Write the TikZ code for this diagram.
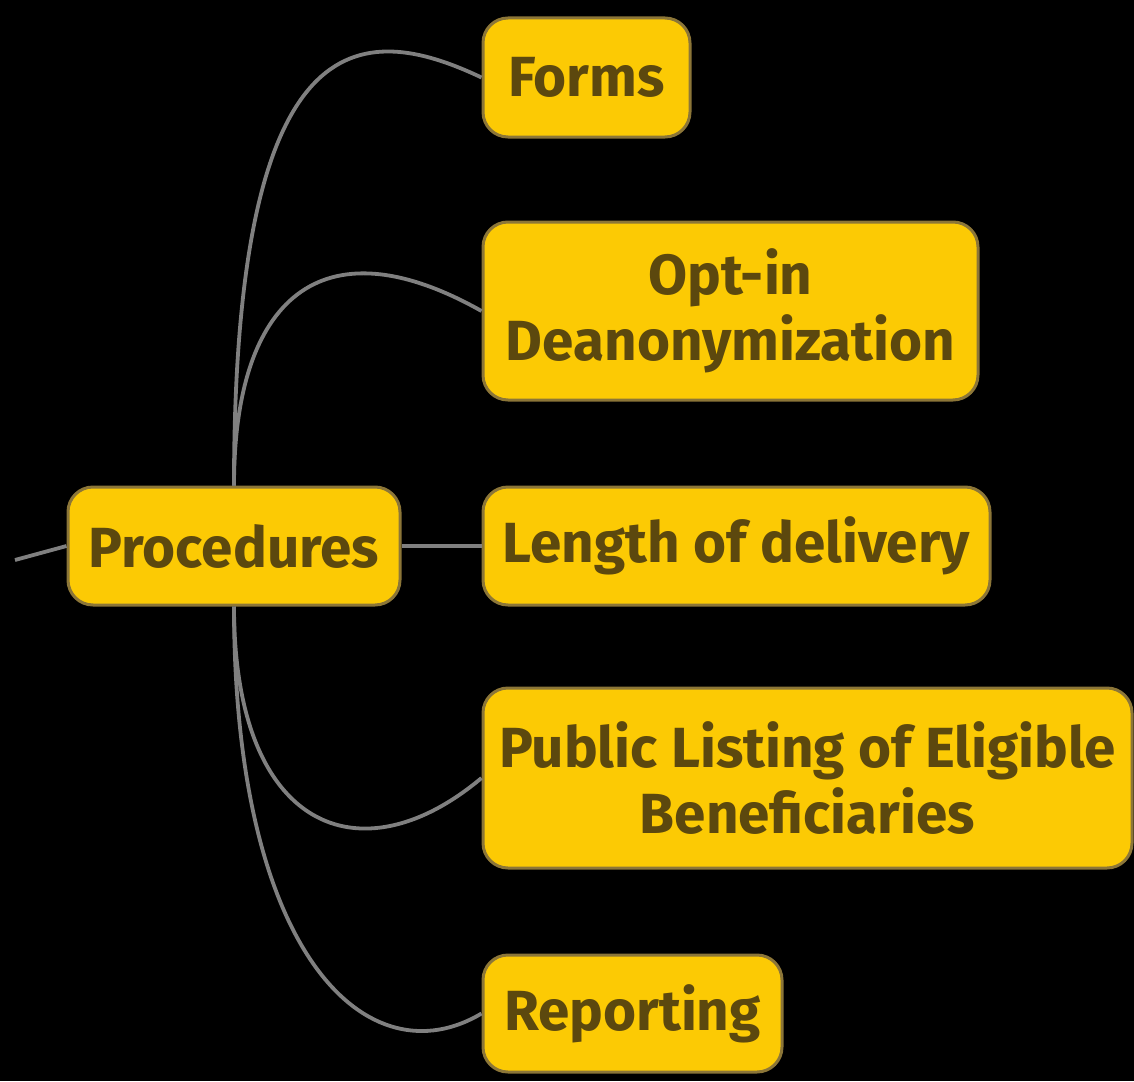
\documentclass[tikz,border=0pt]{standalone}
\usepackage{fontspec}
\setmainfont{Fira Sans}
\definecolor{bgc}{RGB}{0,0,0}
\definecolor{nodefill}{RGB}{252,202,4}
\definecolor{nodeedge}{RGB}{140,118,56}
\definecolor{nodetext}{RGB}{92,72,14}
\definecolor{linkc}{RGB}{128,128,128}
\begin{document}
\begin{tikzpicture}[x=0.5pt,y=-0.5pt,
  topic/.style={draw=nodeedge, line width=1.5pt, fill=nodefill, rounded corners=12.5pt,
    text=nodetext, font=\fontsize{28.3}{33}\selectfont\bfseries, align=center, inner sep=0pt},
  link/.style={draw=linkc, line width=1.9pt}]
\fill[bgc] (0,0) rectangle (1134,1081);
\useasboundingbox (0,0) rectangle (1134,1081);
\node[topic, minimum width=166pt, minimum height=59pt] (proc) at (234,546) {Procedures};
\node[topic, minimum width=103.5pt, minimum height=59.5pt] (forms) at (586.5,77.5) {Forms};
\node[topic, minimum width=247.5pt, minimum height=89pt] (optin) at (730.5,311) {Opt-in\\Deanonymization};
\node[topic, minimum width=253.5pt, minimum height=59pt] (len) at (736.5,546) {Length of delivery};
\node[topic, minimum width=324.5pt, minimum height=90pt] (pub) at (807.5,778) {Public Listing of Eligible\\Beneficiaries};
\node[topic, minimum width=149.5pt, minimum height=58.5pt] (rep) at (632.5,1013.5) {Reporting};
\coordinate (in) at (15,560);
\draw[link] (in) -- (proc.west);
\draw[link] (proc.north) .. controls (234,20) and (360,20) .. (forms.west);
\draw[link] (proc.north) .. controls (234,300) and (320,220) .. (optin.west);
\draw[link] (proc.east) -- (len.west);
\draw[link] (proc.south) .. controls (234,830) and (360,880) .. (pub.west);
\draw[link] (proc.south) .. controls (234,960) and (370,1080) .. (rep.west);
\end{tikzpicture}
\end{document}
